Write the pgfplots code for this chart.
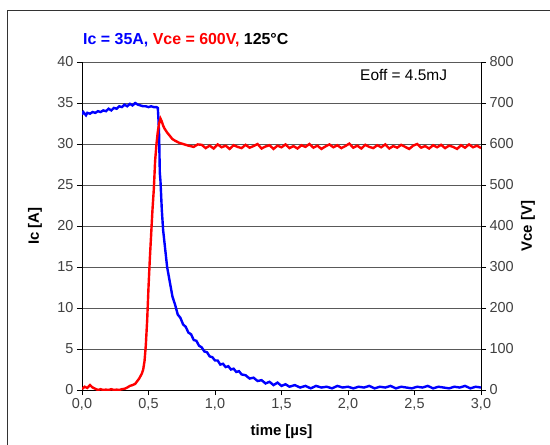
\documentclass[border=0pt]{standalone}
\usepackage{pgfplots}
\pgfplotsset{compat=1.18}
\usepackage{fontspec}
\setmainfont{Liberation Sans}
\definecolor{icblue}{RGB}{0,0,255}
\definecolor{vcered}{RGB}{255,0,0}

\pgfplotsset{
  base/.style={
    scale only axis, width=399bp, height=328bp,
    at={(82bp,-390bp)}, anchor=south west,
    xmin=0, xmax=3,
    tick align=outside, major tick length=5bp,
    tick style={black, line width=0.8bp},
    axis line style={black, line width=0.8bp},
    tick label style={font=\fontsize{14.5}{17}\selectfont, text=black!75},
    /pgf/number format/assume math mode=true,
    label style={font=\bfseries\fontsize{15}{18}\selectfont},
  }
}

\begin{document}
\begin{tikzpicture}
\path[use as bounding box] (0bp,0bp) rectangle (550bp,-445bp);
\draw[black!80, line width=1bp] (7bp,-445bp) -- (7bp,-10bp) -- (550bp,-10bp);

% Ic, left axis
\begin{axis}[base,
  ymin=0, ymax=40, ytick={0,5,...,40},
  xtick={0,0.5,1,1.5,2,2.5,3},
  axis x line*=bottom, axis y line*=left,
  ymajorgrids, grid style={black!65, line width=0.8bp},
  x tick label style={/pgf/number format/.cd, fixed, fixed zerofill, precision=1, use comma},
  xlabel={time [µs]},
  xlabel style={at={(axis description cs:0.5,-0.128)}, anchor=center},
  ylabel={Ic [A]},
  ylabel style={at={(axis description cs:-0.118,0.5)}, anchor=center},
]
\addplot[icblue, line width=2.4bp] coordinates {
(0.00,33.6)(0.01,33.9)(0.02,33.7)(0.03,33.5)(0.04,33.8)(0.06,33.7)(0.08,33.9)
(0.10,33.8)(0.12,34.0)(0.14,33.9)(0.16,34.1)(0.18,34.0)(0.20,34.3)(0.22,34.1)
(0.24,34.4)(0.26,34.3)(0.28,34.6)(0.30,34.5)(0.32,34.8)(0.34,34.6)(0.36,34.9)
(0.38,34.7)(0.40,35.0)(0.42,34.8)(0.44,34.7)(0.46,34.6)(0.48,34.6)(0.50,34.5)
(0.52,34.6)(0.54,34.5)(0.56,34.5)(0.57,34.4)(0.575,33.0)(0.58,31.0)(0.585,26.5)
(0.59,25.5)(0.60,22.0)(0.61,19.5)(0.63,16.5)(0.64,15.0)(0.66,13.2)(0.68,11.4)
(0.70,10.4)(0.72,9.2)(0.74,8.8)(0.76,8.0)(0.78,7.7)(0.80,7.0)(0.82,6.8)
(0.84,6.1)(0.86,6.0)(0.88,5.4)(0.90,5.2)(0.92,4.7)(0.94,4.6)(0.96,4.1)
(0.98,4.0)(1.00,3.6)(1.02,3.6)(1.04,3.1)(1.06,3.2)(1.08,2.8)(1.10,2.9)
(1.12,2.5)(1.14,2.6)(1.16,2.2)(1.18,2.3)(1.20,1.9)(1.23,1.8)(1.26,1.4)
(1.29,1.5)(1.32,1.1)(1.35,1.2)(1.38,0.8)(1.41,1.0)(1.44,0.6)(1.47,0.9)
(1.50,0.5)(1.53,0.7)(1.56,0.4)(1.60,0.6)(1.64,0.3)(1.68,0.5)(1.72,0.2)
(1.76,0.5)(1.80,0.3)(1.84,0.4)(1.88,0.2)(1.92,0.5)(1.96,0.3)(2.00,0.4)
(2.04,0.2)(2.08,0.4)(2.12,0.3)(2.16,0.5)(2.20,0.2)(2.24,0.4)(2.28,0.3)
(2.32,0.5)(2.36,0.2)(2.40,0.4)(2.44,0.3)(2.48,0.2)(2.52,0.4)(2.56,0.3)
(2.60,0.5)(2.64,0.2)(2.68,0.4)(2.72,0.3)(2.76,0.2)(2.80,0.4)(2.84,0.3)
(2.88,0.5)(2.92,0.2)(2.96,0.4)(3.00,0.3)
};
\end{axis}

% Vce, right axis
\begin{axis}[base,
  ymin=0, ymax=800, ytick={0,100,...,800},
  axis y line*=right, axis x line=none,
  ylabel={Vce [V]},
  ylabel style={at={(axis description cs:1.118,0.5)}, anchor=center},
]
\addplot[vcered, line width=2.4bp] coordinates {
(0.00,2)(0.02,8)(0.04,5)(0.06,12)(0.08,6)(0.10,3)(0.12,0)(0.14,2)(0.16,0)
(0.18,1)(0.20,0)(0.22,2)(0.24,0)(0.26,1)(0.28,0)(0.30,2)(0.32,3)(0.34,6)
(0.36,10)(0.38,12)(0.40,15)(0.43,28)(0.45,40)(0.46,50)(0.47,70)(0.48,110)
(0.49,170)(0.50,250)(0.51,320)(0.52,380)(0.53,440)(0.54,490)(0.55,560)
(0.56,600)(0.57,630)(0.58,650)(0.59,662)(0.60,655)(0.61,645)(0.62,638)
(0.64,628)(0.66,620)(0.68,612)(0.70,608)(0.73,603)(0.76,600)(0.80,596)
(0.84,593)(0.87,599)
(0.90,598)(0.93,590)(0.96,596)(0.99,589)(1.02,599)(1.05,592)(1.08,596)
(1.11,588)(1.14,597)(1.17,593)(1.20,590)(1.23,598)(1.26,591)(1.29,595)
(1.32,600)(1.35,589)(1.38,594)(1.41,597)(1.44,588)(1.47,596)(1.50,592)
(1.53,599)(1.56,590)(1.59,595)(1.62,589)(1.65,597)(1.68,593)(1.71,600)
(1.74,591)(1.77,596)(1.80,588)(1.83,594)(1.86,599)(1.89,592)(1.92,597)
(1.95,590)(1.98,595)(2.01,601)(2.04,591)(2.07,596)(2.10,589)(2.13,598)
(2.16,593)(2.19,590)(2.22,597)(2.25,592)(2.28,599)(2.31,589)(2.34,595)
(2.37,591)(2.40,598)(2.43,593)(2.46,588)(2.49,596)(2.52,600)(2.55,591)
(2.58,595)(2.61,589)(2.64,597)(2.67,592)(2.70,598)(2.73,590)(2.76,596)
(2.79,593)(2.82,588)(2.85,597)(2.88,591)(2.91,599)(2.94,592)(2.97,596)
(3.00,590)
};
\end{axis}

\node[anchor=west, font=\bfseries\fontsize{16}{19}\selectfont, inner sep=0pt]
  at (83bp,-40bp) {\textcolor{icblue}{Ic = 35A,} \textcolor{vcered}{Vce = 600V,} 125°C};
\node[anchor=west, font=\fontsize{15.5}{18}\selectfont, inner sep=0pt]
  at (360bp,-75bp) {Eoff = 4.5mJ};
\end{tikzpicture}
\end{document}
